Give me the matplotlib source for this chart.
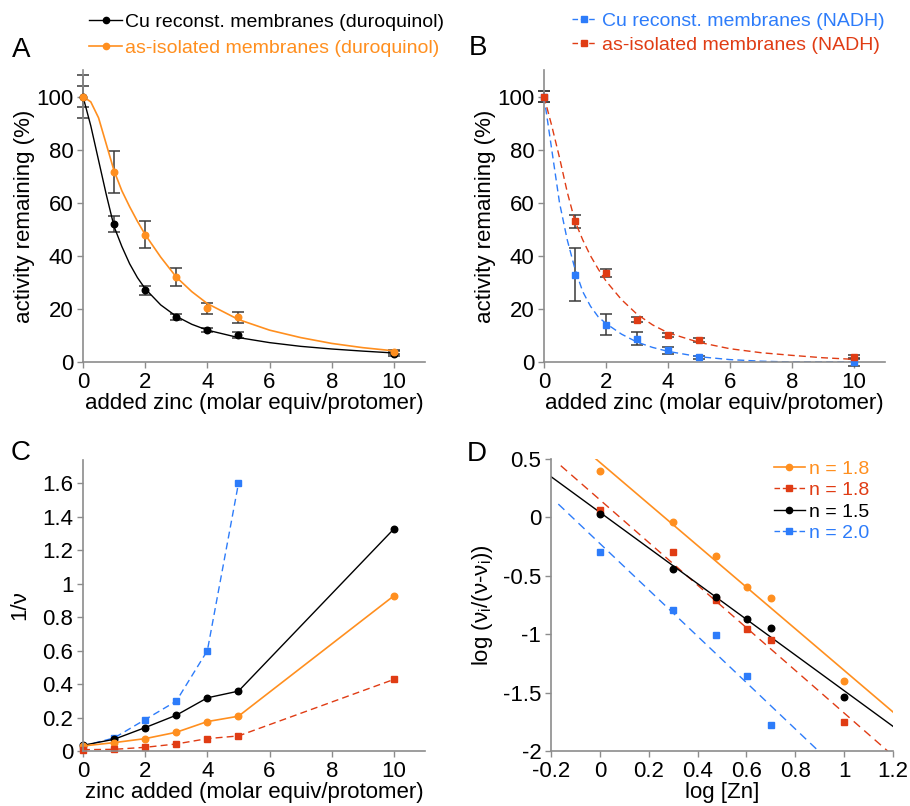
import matplotlib
matplotlib.use("Agg")
from matplotlib import pyplot as plt

plt.rcParams['font.family'] = ['Liberation Sans', 'DejaVu Sans']
plt.rcParams['mathtext.fontset'] = 'custom'
plt.rcParams['mathtext.rm'] = 'Liberation Sans'
plt.rcParams['mathtext.it'] = 'Liberation Sans:italic'
plt.rcParams['axes.unicode_minus'] = False

ORANGE = '#FF8F1F'
RED = '#E03C14'
BLUE = '#2D7CFA'
BLACK = '#000000'
GRAY = '#8C8C8C'
ERR = '#3A3A3A'

# ---- panel A / B : activity remaining vs added zinc
zinc = [0, 1, 2, 3, 4, 5, 10]

cu_duro = [100, 52, 27, 17, 12, 10.2, 3.1]
cu_duro_err = [8, 3, 1.7, 1, 0.7, 1, 1]
iso_duro = [100, 71.5, 48, 31.9, 20.2, 16.8, 3.9]
iso_duro_err = [4, 8, 5.2, 3.4, 2.2, 2, 0.8]

cu_nadh = [100, 32.9, 14.1, 8.8, 4.4, 1.8, 0.0]
cu_nadh_err = [2, 9.9, 4.1, 2.5, 1.3, 0.6, 1.5]
iso_nadh = [100, 53, 33.5, 16, 10.3, 8.3, 1.9]
iso_nadh_err = [2, 2.5, 1.5, 0.8, 0.8, 0.6, 0.8]

# fitted curves
fitA_x = [0, 0.25, 0.5, 0.75, 1, 1.25, 1.5, 1.75, 2, 2.5, 3, 3.5, 4, 5, 6, 7, 8, 9, 10]
fitA_cu = [100, 89, 76, 63, 51, 43.5, 37, 31.8, 27.6, 21.5, 17.2, 14.2, 12, 9.2, 7.3, 5.9, 4.9, 4.1, 3.4]
fitA_iso = [100, 98, 92, 82, 72, 64.5, 58.5, 53, 48, 39.5, 32, 26.5, 22, 16, 12, 9.2, 7, 5.4, 4.2]

fitB_x = [0, 0.25, 0.5, 0.75, 1, 1.25, 1.5, 1.75, 2, 2.5, 3, 3.5, 4, 5, 6, 7, 8, 9, 10]
fitB_cu = [100, 80, 60, 46, 35, 26.5, 21, 17, 14.5, 10.5, 7.5, 5.5, 4, 2, 0.9, 0.3, 0, 0, 0]
fitB_iso = [100, 89, 77, 64, 53, 46, 40, 35, 30.5, 23.5, 18, 14, 11, 7.4, 5, 3.5, 2.5, 1.6, 1.0]

# ---- panel C : 1/v
zincC = [0, 1, 2, 3, 4, 5, 10]
zincC_blue = [0, 1, 2, 3, 4, 5]
inv_cu_nadh = [0.03, 0.078, 0.188, 0.298, 0.6, 1.6]
inv_cu_duro = [0.034, 0.07, 0.14, 0.214, 0.318, 0.358, 1.328]
inv_iso_duro = [0.03, 0.05, 0.074, 0.112, 0.176, 0.208, 0.928]
inv_iso_nadh = [0.008, 0.01, 0.022, 0.042, 0.074, 0.09, 0.428]

# ---- panel D : Hill plot
logzn = [0, 0.301, 0.477, 0.602, 0.699, 1.0]
logzn_blue = [0, 0.301, 0.477, 0.602, 0.699]
hill_iso_duro = [0.397, -0.04, -0.334, -0.6, -0.691, -1.397]
hill_iso_nadh = [0.063, -0.297, -0.709, -0.954, -1.046, -1.754]
hill_cu_duro = [0.031, -0.443, -0.683, -0.871, -0.943, -1.537]
hill_cu_nadh = [-0.3, -0.789, -1.011, -1.354, -1.777]
# regression line end points (x0, x1), (y0, y1)
line_iso_duro = ([-0.016, 1.2], [0.5, -1.666])
line_iso_nadh = ([-0.16, 1.178], [0.443, -2.0])
line_cu_duro = ([-0.2, 1.2], [0.349, -1.789])
line_cu_nadh = ([-0.17, 0.895], [0.114, -2.0])
hill_labels = ['n = 1.8', 'n = 1.8', 'n = 1.5', 'n = 2.0']

FS = 16      # ticks and axis labels
LFS = 14     # legends
MS = 4.7
DASH = (5, 3)


def style(ax):
    for s in ['top', 'right']:
        ax.spines[s].set_visible(False)
    for s in ['left', 'bottom']:
        ax.spines[s].set_color(GRAY)
        ax.spines[s].set_linewidth(1.2)
    ax.tick_params(direction='out', length=4, width=1, color=GRAY,
                   labelsize=FS, pad=3)


fig = plt.figure(figsize=(9.1, 8.06), dpi=100)
axA = fig.add_axes([83/910, 1-362/806, 342/910, 292/806])
axB = fig.add_axes([544/910, 1-362/806, 341/910, 292/806])
axC = fig.add_axes([83/910, 1-751/806, 342/910, 291/806])
axD = fig.add_axes([551/910, 1-751/806, 342/910, 292/806])

# A
ax = axA
style(ax)
ax.errorbar(zinc, cu_duro, yerr=cu_duro_err, fmt='none', ecolor=ERR,
            elinewidth=1.1, capsize=4, capthick=1.1, zorder=2, clip_on=False)
ax.errorbar(zinc, iso_duro, yerr=iso_duro_err, fmt='none', ecolor=ERR,
            elinewidth=1.1, capsize=4, capthick=1.1, zorder=2, clip_on=False)
ax.plot(fitA_x, fitA_cu, color=BLACK, lw=1)
ax.plot(fitA_x, fitA_iso, color=ORANGE, lw=1.2)
ax.plot(zinc, cu_duro, 'o', color=BLACK, ms=MS, zorder=3, clip_on=False)
ax.plot(zinc, iso_duro, 'o', color=ORANGE, ms=MS, zorder=3, clip_on=False)
hA = [plt.Line2D([], [], color=BLACK, lw=1, marker='o', ms=4.5),
      plt.Line2D([], [], color=ORANGE, lw=1.2, marker='o', ms=4.5)]
leg = ax.legend(hA, ['Cu reconst. membranes (duroquinol)',
                     'as-isolated membranes (duroquinol)'],
                loc='upper left', bbox_to_anchor=(89/910, 1-13/806),
                bbox_transform=fig.transFigure, frameon=False, fontsize=LFS,
                handlelength=1.7, handletextpad=0.15, labelspacing=0.43,
                borderpad=0, borderaxespad=0)
for t, c in zip(leg.get_texts(), [BLACK, ORANGE]):
    t.set_color(c)
ax.set_xlim(0, 11)
ax.set_ylim(0, 110)
ax.set_xticks([0, 2, 4, 6, 8, 10])
ax.set_yticks([0, 20, 40, 60, 80, 100])
ax.set_xlabel('added zinc (molar equiv/protomer)', fontsize=FS, labelpad=0)
ax.set_ylabel('activity remaining (%)', fontsize=FS, labelpad=1)

# B
ax = axB
style(ax)
ax.errorbar(zinc, cu_nadh, yerr=cu_nadh_err, fmt='none', ecolor=ERR,
            elinewidth=1.1, capsize=4, capthick=1.1, zorder=2, clip_on=False)
ax.errorbar(zinc, iso_nadh, yerr=iso_nadh_err, fmt='none', ecolor=ERR,
            elinewidth=1.1, capsize=4, capthick=1.1, zorder=2, clip_on=False)
ax.plot(fitB_x, fitB_cu, color=BLUE, lw=1, dashes=DASH)
ax.plot(fitB_x, fitB_iso, color=RED, lw=1, dashes=DASH)
ax.plot(zinc, cu_nadh, 's', color=BLUE, ms=MS, zorder=3, clip_on=False)
ax.plot(zinc, iso_nadh, 's', color=RED, ms=MS, zorder=3, clip_on=False)
hB = [plt.Line2D([], [], color=BLUE, lw=1, dashes=(4, 2), marker='s', ms=4.5),
      plt.Line2D([], [], color=RED, lw=1, dashes=(4, 2), marker='s', ms=4.5)]
leg = ax.legend(hB, ['Cu reconst. membranes (NADH)',
                     'as-isolated membranes (NADH)'],
                loc='upper left', bbox_to_anchor=(572/910, 1-12.5/806),
                bbox_transform=fig.transFigure, frameon=False, fontsize=LFS,
                handlelength=1.2, handletextpad=0.35, labelspacing=0.33,
                borderpad=0, borderaxespad=0)
for t, c in zip(leg.get_texts(), [BLUE, RED]):
    t.set_color(c)
ax.set_xlim(0, 11)
ax.set_ylim(0, 110)
ax.set_xticks([0, 2, 4, 6, 8, 10])
ax.set_yticks([0, 20, 40, 60, 80, 100])
ax.set_xlabel('added zinc (molar equiv/protomer)', fontsize=FS, labelpad=0)
ax.set_ylabel('activity remaining (%)', fontsize=FS, labelpad=1)

# C
ax = axC
style(ax)
ax.plot(zincC_blue, inv_cu_nadh, color=BLUE, lw=1, dashes=DASH, marker='s',
        ms=MS, clip_on=False)
ax.plot(zincC, inv_cu_duro, color=BLACK, lw=1, marker='o', ms=MS, clip_on=False)
ax.plot(zincC, inv_iso_duro, color=ORANGE, lw=1.2, marker='o', ms=MS, clip_on=False)
ax.plot(zincC, inv_iso_nadh, color=RED, lw=1, dashes=DASH, marker='s',
        ms=MS, clip_on=False)
ax.set_xlim(0, 11)
ax.set_ylim(0, 1.74)
ax.set_xticks([0, 2, 4, 6, 8, 10])
ax.set_yticks([0, 0.2, 0.4, 0.6, 0.8, 1.0, 1.2, 1.4, 1.6])
ax.set_yticklabels(['0', '0.2', '0.4', '0.6', '0.8', '1', '1.2', '1.4', '1.6'])
ax.set_xlabel('zinc added (molar equiv/protomer)', fontsize=FS, labelpad=0)
ax.set_ylabel('1/\u03bd', fontsize=FS, labelpad=9)

# D
ax = axD
style(ax)
ax.plot(*line_iso_duro, color=ORANGE, lw=1.2)
ax.plot(*line_iso_nadh, color=RED, lw=1, dashes=(6, 4))
ax.plot(*line_cu_duro, color=BLACK, lw=1)
ax.plot(*line_cu_nadh, color=BLUE, lw=1, dashes=(6, 4))
ax.plot(logzn, hill_iso_duro, 'o', color=ORANGE, ms=MS)
ax.plot(logzn, hill_iso_nadh, 's', color=RED, ms=MS)
ax.plot(logzn, hill_cu_duro, 'o', color=BLACK, ms=MS)
ax.plot(logzn_blue, hill_cu_nadh, 's', color=BLUE, ms=MS)
hD = [plt.Line2D([], [], color=ORANGE, lw=1.2, marker='o', ms=4.5),
      plt.Line2D([], [], color=RED, lw=1, dashes=(4, 2), marker='s', ms=4.5),
      plt.Line2D([], [], color=BLACK, lw=1, marker='o', ms=4.5),
      plt.Line2D([], [], color=BLUE, lw=1, dashes=(4, 2), marker='s', ms=4.5)]
leg = ax.legend(hD, hill_labels, loc='upper right',
                bbox_to_anchor=(869/910, 1-460/806),
                bbox_transform=fig.transFigure, frameon=False, fontsize=LFS,
                handlelength=1.6, handletextpad=0.2, labelspacing=0.2,
                borderpad=0, borderaxespad=0)
for t, c in zip(leg.get_texts(), [ORANGE, RED, BLACK, BLUE]):
    t.set_color(c)
ax.set_xlim(-0.2, 1.2)
ax.set_ylim(-2, 0.5)
xt = [-0.2, 0, 0.2, 0.4, 0.6, 0.8, 1.0, 1.2]
ax.set_xticks(xt)
ax.set_xticklabels(['-0.2', '0', '0.2', '0.4', '0.6', '0.8', '1', '1.2'])
yt = [-2, -1.5, -1, -0.5, 0, 0.5]
ax.set_yticks(yt)
ax.set_yticklabels(['-2', '-1.5', '-1', '-0.5', '0', '0.5'])
ax.set_xlabel('log [Zn]', fontsize=FS, labelpad=0)
ax.set_ylabel('log (\u03bd$_\\mathrm{i}$/(\u03bd-\u03bd$_\\mathrm{i}$))',
              fontsize=FS, labelpad=6)

# panel letters
for lab, x, y in [('A', 12, 50), ('B', 469, 48), ('C', 11, 453), ('D', 467, 454)]:
    fig.text(x/910, 1-y/806, lab, fontsize=20, va='center', ha='left')

fig.savefig('out.png', dpi=100)
plt.close()
